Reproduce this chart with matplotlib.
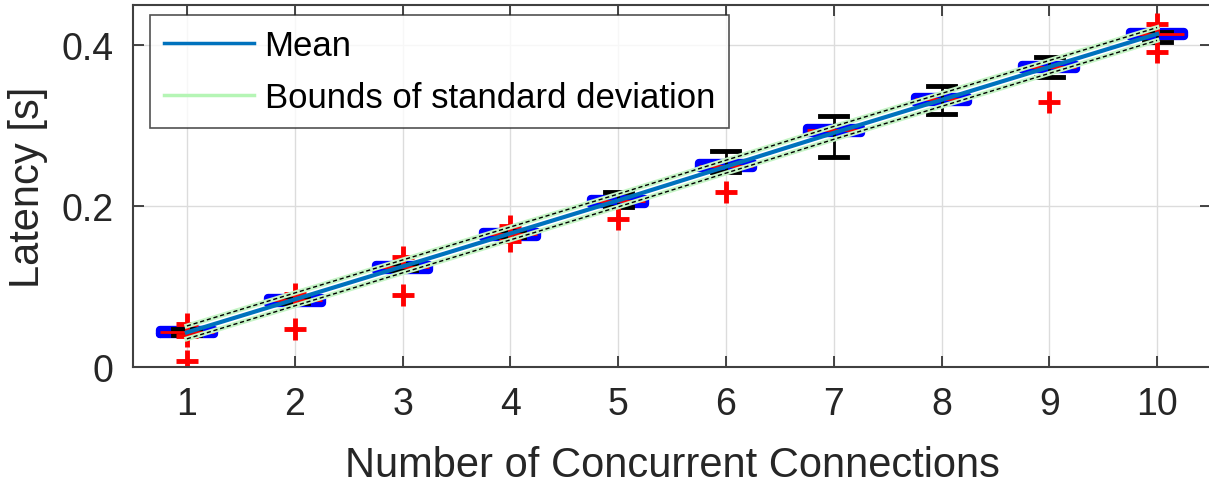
import numpy as np
import matplotlib.pyplot as plt

plt.rcParams['font.family'] = ['Liberation Sans', 'DejaVu Sans']

connections = [1, 2, 3, 4, 5, 6, 7, 8, 9, 10]
medians = [0.0435, 0.083, 0.124, 0.165, 0.206, 0.250, 0.294, 0.333, 0.373, 0.414]
q1 = [0.041, 0.080, 0.121, 0.162, 0.203, 0.247, 0.291, 0.330, 0.370, 0.411]
q3 = [0.046, 0.086, 0.127, 0.168, 0.209, 0.253, 0.297, 0.336, 0.376, 0.417]
whisker_lo = [0.040, 0.079, 0.120, 0.161, 0.199, 0.242, 0.261, 0.314, 0.361, 0.404]
whisker_hi = [0.047, 0.087, 0.128, 0.169, 0.217, 0.268, 0.312, 0.349, 0.385, 0.417]
outliers = [[0.053, 0.038, 0.0075], [0.091, 0.047], [0.137, 0.089], [0.175, 0.157],
            [0.184], [0.217], [], [], [0.330], [0.427, 0.391]]
means = [0.043, 0.084, 0.125, 0.166, 0.207, 0.249, 0.291, 0.332, 0.373, 0.414]
stds = [0.008, 0.008, 0.008, 0.008, 0.008, 0.008, 0.008, 0.008, 0.008, 0.008]

x = np.array(connections)
means = np.array(means)
stds = np.array(stds)

fig = plt.figure(figsize=(12.09, 4.85), dpi=100)
ax = fig.add_axes([133/1209, 117/485, 1078/1209, 362/485])

stats = []
for i in range(len(x)):
    stats.append(dict(med=medians[i], q1=q1[i], q3=q3[i], whislo=whisker_lo[i],
                      whishi=whisker_hi[i], fliers=outliers[i]))

ax.bxp(stats, positions=x, widths=0.5, showfliers=True, capwidths=0.25,
       boxprops=dict(color='#0000ff', linewidth=6, solid_capstyle='round', solid_joinstyle='round'),
       medianprops=dict(color='red', linewidth=2),
       whiskerprops=dict(color='black', linewidth=2),
       capprops=dict(color='black', linewidth=3.5),
       flierprops=dict(marker='+', markeredgecolor='red', markersize=16, markeredgewidth=3.5,
                       linestyle='none'))

# std bounds
for b in (means + stds, means - stds):
    ax.plot(x, b, color='#c6f5c6', linewidth=3.5, zorder=4)
    ax.plot(x, b, color='black', linewidth=1.0, linestyle=(0, (3, 2)), zorder=4.1)
ax.plot(x, means, color='#0072BD', linewidth=3, zorder=5)

# legend proxies
h1, = ax.plot([], [], color='#0072BD', linewidth=2.5, label='Mean')
h2, = ax.plot([], [], color='#b5f5b5', linewidth=2.5, label='Bounds of standard deviation')
leg = ax.legend(handles=[h1, h2], loc='upper left', bbox_to_anchor=(0.0158, 0.972),
                fontsize=25, frameon=True, fancybox=False, edgecolor='#262626',
                handlelength=2.6, handletextpad=0.3, borderpad=0.4, labelspacing=0.55,
                borderaxespad=0)
leg.get_frame().set_linewidth(1.2)

ax.set_xlim(0.5, 10.5)
ax.set_ylim(0, 0.45)
ax.set_xticks(x)
ax.set_xticklabels([str(c) for c in connections])
ax.set_yticks([0, 0.2, 0.4])
ax.set_yticklabels(['0', '0.2', '0.4'])
ax.grid(True, color='#dcdcdc', linewidth=1)
ax.set_axisbelow(True)
ax.tick_params(direction='in', length=8, width=1.2, labelsize=27, colors='#262626',
               top=True, right=True, pad=14)
for s in ax.spines.values():
    s.set_color('#404040')
    s.set_linewidth(1.5)
ax.set_xlabel('Number of Concurrent Connections', fontsize=30, color='#262626', labelpad=16)
ax.set_ylabel('Latency [s]', fontsize=30, color='#262626', labelpad=10)

fig.savefig('out.png', dpi=100)
